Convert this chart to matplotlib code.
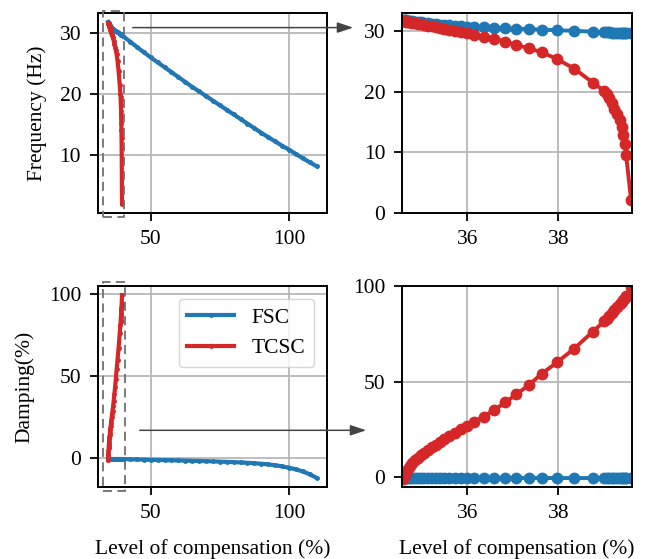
import matplotlib
matplotlib.use("Agg")
import matplotlib.pyplot as plt
from matplotlib.patches import Rectangle, FancyArrowPatch

plt.rcParams['font.family'] = 'Liberation Serif'
plt.rcParams['font.size'] = 15.5
plt.rcParams['axes.linewidth'] = 1.4

# compensation levels (%) where both devices were evaluated (zoom window)
tcsc_x = [34.60, 34.63, 34.66, 34.70, 34.75, 34.80, 34.86, 34.92, 34.99, 35.06,
          35.14, 35.22, 35.31, 35.40, 35.50, 35.61, 35.73, 35.86, 36.00, 36.16,
          36.36, 36.59, 36.84, 37.08, 37.36, 37.64, 37.97, 38.35, 38.76, 39.01,
          39.07, 39.12, 39.18, 39.23, 39.29, 39.35, 39.39, 39.42, 39.46, 39.49,
          39.60]
tcsc_freq = [31.65, 31.60, 31.55, 31.50, 31.45, 31.35, 31.30, 31.20, 31.10, 31.00,
             30.90, 30.80, 30.65, 30.50, 30.40, 30.20, 30.05, 29.85, 29.65, 29.40,
             29.10, 28.75, 28.25, 27.70, 27.15, 26.50, 25.40, 23.80, 21.50, 20.10,
             19.60, 19.00, 18.20, 17.20, 16.30, 15.30, 14.20, 12.80, 11.30, 9.50,
             2.10]
tcsc_damp = [-1.0, 1.5, 3.0, 4.6, 6.2, 7.6, 9.0, 10.3, 11.7, 13.0,
             14.4, 15.7, 17.1, 18.5, 20.0, 21.6, 23.3, 25.1, 27.0, 29.2,
             31.8, 35.2, 39.2, 43.4, 48.4, 54.2, 60.1, 67.3, 76.2, 81.6,
             83.0, 84.4, 85.9, 87.3, 88.9, 90.6, 91.7, 92.6, 93.8, 94.8,
             99.5]

# FSC: same points as TCSC plus the rest of the range
fsc_x_ext = [40.0, 42.5, 45.0, 47.5, 50.0, 52.5, 55.0, 57.5, 60.0, 62.5,
             65.0, 67.5, 70.0, 72.5, 75.0, 77.5, 80.0, 82.5, 85.0, 87.5,
             90.0, 92.5, 95.0, 97.5, 100.0, 102.5, 105.0, 107.5, 110.0]
fsc_freq = [31.80, 31.77, 31.74, 31.70, 31.65, 31.60, 31.54, 31.48, 31.42, 31.36,
            31.29, 31.22, 31.15, 31.08, 31.01, 30.94, 30.87, 30.81, 30.75, 30.69,
            30.62, 30.55, 30.47, 30.40, 30.32, 30.24, 30.14, 30.03, 29.90, 29.82,
            29.80, 29.78, 29.76, 29.74, 29.72, 29.70, 29.69, 29.68, 29.67, 29.66,
            29.62,
            29.45, 28.60, 27.70, 26.85, 26.00, 25.20, 24.40, 23.60, 22.80, 22.00,
            21.20, 20.45, 19.70, 18.95, 18.20, 17.45, 16.70, 15.95, 15.20, 14.45,
            13.70, 13.00, 12.30, 11.60, 10.95, 10.25, 9.55, 8.90, 8.25]
fsc_damp = [-0.30] * 20 + [-0.32] * 21 + \
           [-0.4, -0.5, -0.6, -0.7, -0.8, -0.9, -1.0, -1.1, -1.2, -1.3,
            -1.4, -1.5, -1.6, -1.75, -1.9, -2.05, -2.2, -2.4, -2.6, -2.9,
            -3.2, -3.6, -4.1, -4.8, -5.6, -6.6, -7.9, -9.6, -11.8]
fsc_x = tcsc_x + fsc_x_ext

blue = '#1f77b4'
red = '#d62728'
grid_c = '#b8b8b8'

fig = plt.figure(figsize=(6.52, 5.59), dpi=100)
ax1 = fig.add_axes([0.150, 0.619, 0.3515, 0.358])
ax2 = fig.add_axes([0.6166, 0.619, 0.3528, 0.358])
ax3 = fig.add_axes([0.150, 0.1288, 0.3515, 0.3596])
ax4 = fig.add_axes([0.6166, 0.1288, 0.3528, 0.3596])

for ax in (ax1, ax3):
    ax.plot(fsc_x, fsc_freq if ax is ax1 else fsc_damp, color=blue, lw=3,
            marker='.', ms=5, label='FSC')
    ax.plot(tcsc_x, tcsc_freq if ax is ax1 else tcsc_damp, color=red, lw=3,
            marker='.', ms=5, label='TCSC')
    ax.set_xticks([50, 100])

n = len(tcsc_x)
for ax in (ax2, ax4):
    ax.plot(tcsc_x, fsc_freq[:n] if ax is ax2 else fsc_damp[:n],
            color=blue, lw=2.8, marker='o', ms=7.5)
    ax.plot(tcsc_x, tcsc_freq if ax is ax2 else tcsc_damp, color=red, lw=2.8,
            marker='o', ms=7.5)
    ax.set_xlim(34.57, 39.62)
    ax.set_xticks([36, 38])

ax1.set_yticks([10, 20, 30])
ax2.set_ylim(0, 33)
ax2.set_yticks([0, 10, 20, 30])
ax3.set_yticks([0, 50, 100])
ax4.set_ylim(-5, 100)
ax4.set_yticks([0, 50, 100])

for ax in (ax1, ax2, ax3, ax4):
    ax.grid(True, color=grid_c, lw=1.3)
    ax.set_axisbelow(True)
    ax.tick_params(length=6, width=1.3, pad=6)

ax1.set_ylabel('Frequency (Hz)', labelpad=9)
ax3.set_ylabel('Damping(%)', labelpad=10)
ax3.set_xlabel('Level of compensation (%)', labelpad=12)
ax4.set_xlabel('Level of compensation (%)', labelpad=12)

ax3.legend(loc='upper right', handlelength=2.2, borderaxespad=0.6)

# dashed zoom windows
ax1.add_patch(Rectangle((32.7, 0.0), 7.7, 33.6, fill=False, ls=(0, (5, 3)),
                        ec='#707070', lw=1.3, clip_on=False, zorder=5))
ax3.add_patch(Rectangle((32.7, -20.0), 7.8, 127.6, fill=False, ls=(0, (5, 3)),
                        ec='#707070', lw=1.3, clip_on=False, zorder=5))

# arrows to the zoomed panels
arrow = dict(arrowstyle='-|>,head_length=0.6,head_width=0.2', color='#444444',
             lw=1.1, mutation_scale=16)
fig.patches.append(FancyArrowPatch(
    (130 / 652, 1 - 27.6 / 559), (356 / 652, 1 - 27.6 / 559),
    transform=fig.transFigure, **arrow))
fig.patches.append(FancyArrowPatch(
    (137 / 652, 1 - 430.3 / 559), (369 / 652, 1 - 430.3 / 559),
    transform=fig.transFigure, **arrow))

fig.savefig('out.png', dpi=100)
